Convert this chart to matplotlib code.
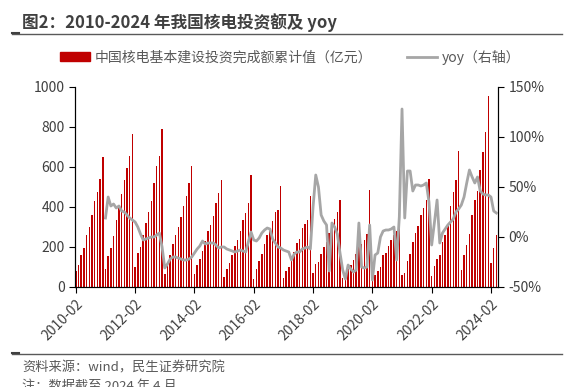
import matplotlib
matplotlib.use("Agg")
import matplotlib.pyplot as plt
from matplotlib.patches import Patch
from matplotlib.lines import Line2D

plt.rcParams['font.family'] = ['Noto Sans CJK SC', 'DejaVu Sans']

# data: cumulative nuclear investment (亿元), Feb-Dec each year (Jan merged into Feb)
years = list(range(2010, 2025))
invest = [
    78, 108, 158, 197, 258, 298, 358, 430, 475, 542, 648,      # 2010
    90, 153, 197, 257, 337, 400, 465, 533, 597, 653, 767,      # 2011
    100, 168, 200, 262, 318, 375, 432, 520, 605, 655, 788,     # 2012
    66, 116, 158, 216, 262, 302, 348, 406, 456, 522, 605,      # 2013
    63, 108, 139, 182, 229, 282, 312, 355, 421, 468, 533,      # 2014
    50, 92, 122, 158, 205, 233, 280, 337, 370, 420, 562,       # 2015
    38, 88, 128, 167, 217, 258, 283, 330, 375, 387, 503,       # 2016
    45, 78, 100, 133, 175, 220, 240, 295, 317, 337, 453,       # 2017
    70, 116, 124, 165, 202, 224, 270, 307, 340, 373, 437,      # 2018
    45, 50, 91, 108, 136, 166, 225, 217, 233, 263, 487,        # 2019
    28, 62, 78, 100, 162, 172, 205, 237, 258, 280, 375,        # 2020
    62, 72, 128, 167, 223, 270, 305, 358, 395, 433, 538,       # 2021
    55, 103, 138, 158, 225, 258, 312, 403, 475, 533, 678,      # 2022
    83, 158, 212, 267, 358, 437, 478, 587, 675, 775, 953,      # 2023
    119, 196, 262,                                             # 2024
]
# yoy (%), starts 2011-02
yoy = [
    19, 40, 31, 33, 29, 31, 26, 25, 22, 19, 17,
    15, 10, 3, -3, -2, -1, 0, 0, 2, 4, -10,
    -31, -27, -22, -20, -20, -21, -22, -23, -23, -22, -20,
    -16, -12, -9, -4, -7, -6, -6, -6, -8, -11, -10,
    -10, -12, -13, -14, -15, -14, -13, -14, -15, -5, 5,
    -3, -4, -1, 4, 7, 9, 8, -2, -6, -10, -11,
    -13, -14, -15, -23, -17, -15, -15, -12, -11, -10, -12,
    30, 62, 50, 22, 16, 12, -34, 14, 10, 3, -16,
    -33, -42, -28, -32, -35, -33, 14, -30, -31, -30, 12,
    -43, -18, -16, 0, 6, 7, 7, 8, 10, -23, 20,
    128, 19, 66, 66, 46, 52, 52, 51, 52, 54, 35,
    -8, 14, 37, -6, 4, 8, 12, 15, 18, 25, 28,
    32, 40, 54, 67, 60, 54, 60, 46, 43, 42, 42,
    40, 26, 24,
]

labels = []
for y in years:
    last = 4 if y == 2024 else 12
    for m in range(2, last + 1):
        labels.append(f"{y}-{m:02d}")

x = list(range(len(invest)))
x_yoy = list(range(11, 11 + len(yoy)))

W, H = 578, 387
fig = plt.figure(figsize=(W / 100, H / 100), dpi=100)
ax = fig.add_axes([75 / W, (H - 287) / H, (498 - 75) / W, 200 / H])

txt = '#404040'
ax.bar(x, invest, width=0.55, color='#c00000', linewidth=0, zorder=2)
ax.set_ylim(0, 1000)
ax.set_yticks(range(0, 1001, 200))
ax.set_xlim(-0.3, 156.6)
tick_idx = [i for i, s in enumerate(labels) if s.endswith('-02') and int(s[:4]) % 2 == 0]
ax.set_xticks(tick_idx)
ax.set_xticklabels([labels[i] for i in tick_idx], rotation=45, ha='right',
                   rotation_mode='anchor', fontsize=10, color=txt)
ax.tick_params(axis='y', labelsize=10, labelcolor=txt, length=4, width=0.8)
ax.tick_params(axis='x', length=4, width=0.8, pad=3)
ax.spines['top'].set_visible(False)

ax2 = ax.twinx()
ax2.plot(x_yoy, yoy, color='#a6a6a6', lw=2, zorder=3)
ax2.set_ylim(-50, 150)
ax2.set_yticks(range(-50, 151, 50))
ax2.set_yticklabels([f"{v}%" for v in range(-50, 151, 50)])
ax2.tick_params(axis='y', labelsize=10, labelcolor=txt, length=4, width=0.8)
ax2.spines['top'].set_visible(False)
for a in (ax, ax2):
    for s in ('left', 'right', 'bottom'):
        a.spines[s].set_linewidth(0.8)

# legend
handles = [Patch(color='#c00000'), Line2D([0], [0], color='#a6a6a6', lw=2)]
fig.legend(handles, ['中国核电基本建设投资完成额累计值（亿元）', 'yoy（右轴）'],
           loc='center', bbox_to_anchor=(290 / W, 1 - 57 / H), ncol=2, frameon=False,
           fontsize=10, labelcolor='#595959', handlelength=2.2, handleheight=0.6,
           columnspacing=2.5, handletextpad=0.3)

# title and footer
fig.text(22 / W, 1 - 23 / H, '图2：2010-2024 年我国核电投资额及 yoy', fontsize=12,
         fontweight='bold', color=txt, va='center', ha='left')
fig.add_artist(Line2D([12 / W, 562 / W], [1 - 34 / H] * 2, color='#595959', lw=1))
fig.add_artist(Line2D([12 / W, 19 / W], [1 - 33 / H] * 2, color='#404040', lw=1.5))
fig.add_artist(Line2D([12 / W, 562 / W], [1 - 354 / H] * 2, color='#595959', lw=1))
fig.add_artist(Line2D([12 / W, 19 / W], [1 - 353 / H] * 2, color='#404040', lw=1.5))
fig.text(22 / W, 1 - 368 / H, '资料来源：wind，民生证券研究院', fontsize=9.5,
         color='#595959', va='center', ha='left')
fig.text(22 / W, 1 - 386 / H, '注：数据截至 2024 年 4 月', fontsize=9.5,
         color='#595959', va='center', ha='left')

fig.savefig('out.png', dpi=100)
